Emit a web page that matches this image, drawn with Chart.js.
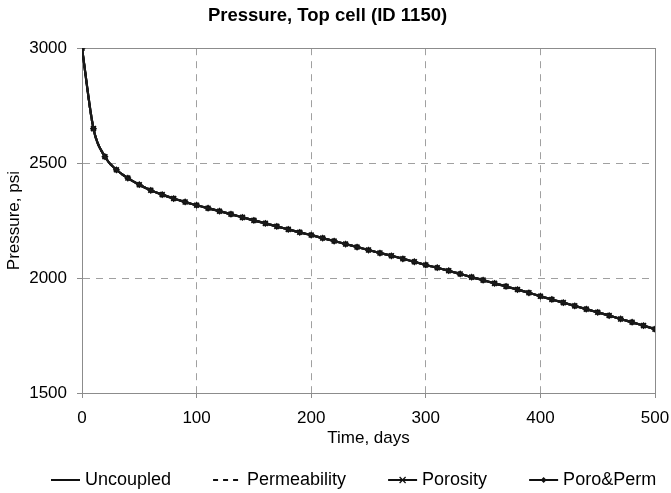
<!DOCTYPE html>
<html>
<head>
<meta charset="utf-8">
<script src="https://cdn.jsdelivr.net/npm/chart.js@4/dist/chart.umd.min.js"></script>
<style>
  html, body { margin: 0; padding: 0; background: #fff; }
  #wrap { width: 671px; height: 493px; }
</style>
</head>
<body>
<div id="wrap"><canvas id="c" width="671" height="493"></canvas></div>
<script>
// ---- data ----
const timeDays = [0,10,20,30,40,50,60,70,80,90,100,110,120,130,140,150,160,170,180,190,200,
  210,220,230,240,250,260,270,280,290,300,310,320,330,340,350,360,370,380,390,400,
  410,420,430,440,450,460,470,480,490,500];
const uncoupled = [3000,2650,2528,2471,2435,2406,2382,2363,2346,2331,2317,2304,2291,2278,2264,2251,2238,2225,2212,2199,2187,
  2174,2161,2148,2135,2122,2109,2097,2084,2071,2057,2045,2032,2018,2004,1991,1977,1964,1950,1936,1921,
  1907,1893,1879,1865,1851,1837,1822,1808,1793,1778];
const permeability = [3000,2650,2528,2471,2435,2406,2382,2363,2346,2331,2317,2304,2291,2278,2264,2251,2238,2225,2212,2199,2187,
  2174,2161,2148,2135,2122,2109,2097,2084,2071,2057,2045,2032,2018,2004,1991,1977,1964,1950,1936,1921,
  1907,1893,1879,1865,1851,1837,1822,1808,1793,1778];
const porosity = [3000,2650,2528,2471,2435,2406,2382,2363,2346,2331,2317,2304,2291,2278,2264,2251,2238,2225,2212,2199,2187,
  2174,2161,2148,2135,2122,2109,2097,2084,2071,2057,2045,2032,2018,2004,1991,1977,1964,1950,1936,1921,
  1907,1893,1879,1865,1851,1837,1822,1808,1793,1778];
const poroPerm = [3000,2650,2528,2471,2435,2406,2382,2363,2346,2331,2317,2304,2291,2278,2264,2251,2238,2225,2212,2199,2187,
  2174,2161,2148,2135,2122,2109,2097,2084,2071,2057,2045,2032,2018,2004,1991,1977,1964,1950,1936,1921,
  1907,1893,1879,1865,1851,1837,1822,1808,1793,1778];
const seriesNames = ['Uncoupled','Permeability','Porosity','Poro&Perm'];
const xTicks = [0,100,200,300,400,500];
const yTicks = [1500,2000,2500,3000];
const titleText = 'Pressure, Top cell (ID 1150)';
const xTitle = 'Time, days';
const yTitle = 'Pressure, psi';

const FONT = '"Liberation Sans", Arial, Helvetica, sans-serif';
const pts = arr => timeDays.map((t, i) => ({x: t, y: arr[i]}));

const seriesStyles = [
  {dash: [], legendDash: [], pointStyle: false, radius: 0},
  {dash: [4, 4], legendDash: [5, 5], pointStyle: false, radius: 0},
  {dash: [], legendDash: [], pointStyle: 'crossRot', radius: 3.5},
  {dash: [], legendDash: [], pointStyle: 'rectRot', radius: 2.5}
];
const seriesData = [uncoupled, permeability, porosity, poroPerm];

const datasets = seriesNames.map((name, i) => ({
  label: name,
  data: pts(seriesData[i]),
  borderColor: '#1a1a1a',
  backgroundColor: '#1a1a1a',
  borderWidth: 2.2,
  borderDash: seriesStyles[i].dash,
  pointStyle: seriesStyles[i].pointStyle || 'circle',
  pointRadius: seriesStyles[i].radius,
  pointBorderWidth: 1.6,
  pointBorderColor: '#111',
  pointBackgroundColor: '#111',
  cubicInterpolationMode: 'monotone',
  fill: false
}));

// solid frame around the plot area
const framePlugin = {
  id: 'frame',
  beforeDatasetsDraw(chart) {
    const {ctx, chartArea: a} = chart;
    ctx.save();
    ctx.strokeStyle = '#8c8c8c';
    ctx.lineWidth = 1;
    ctx.setLineDash([]);
    ctx.strokeRect(Math.round(a.left) + 0.5, Math.round(a.top) + 0.5,
      Math.round(a.right - a.left), Math.round(a.bottom - a.top));
    ctx.restore();
  }
};

// legend drawn below the axis title
const legendPlugin = {
  id: 'bottomLegend',
  afterDraw(chart) {
    const {ctx} = chart;
    ctx.save();
    ctx.font = '18px ' + FONT;
    ctx.textBaseline = 'middle';
    ctx.fillStyle = '#000';
    const y = 480;
    const lineLen = 29, gapText = 5, gapItem = 42;
    let x = 51;
    seriesNames.forEach((name, i) => {
      const st = seriesStyles[i];
      ctx.strokeStyle = '#111';
      ctx.lineWidth = 2;
      ctx.setLineDash(st.legendDash);
      ctx.beginPath();
      ctx.moveTo(x, y);
      ctx.lineTo(x + lineLen, y);
      ctx.stroke();
      ctx.setLineDash([]);
      const cx = x + lineLen / 2;
      if (st.pointStyle === 'crossRot') {
        ctx.lineWidth = 1.3;
        ctx.beginPath();
        ctx.moveTo(cx - 3, y - 3); ctx.lineTo(cx + 3, y + 3);
        ctx.moveTo(cx - 3, y + 3); ctx.lineTo(cx + 3, y - 3);
        ctx.stroke();
      } else if (st.pointStyle === 'rectRot') {
        ctx.beginPath();
        ctx.moveTo(cx, y - 3); ctx.lineTo(cx + 3, y); ctx.lineTo(cx, y + 3); ctx.lineTo(cx - 3, y);
        ctx.closePath();
        ctx.fillStyle = '#111';
        ctx.fill();
        ctx.fillStyle = '#000';
      }
      x += lineLen + gapText;
      ctx.fillText(name, x, y);
      x += ctx.measureText(name).width + gapItem;
    });
    ctx.restore();
  }
};

new Chart(document.getElementById('c'), {
  type: 'line',
  data: {datasets},
  plugins: [framePlugin, legendPlugin],
  options: {
    responsive: false,
    animation: false,
    devicePixelRatio: 1,
    layout: {padding: {left: 0, right: 16, top: 0, bottom: 40}},
    plugins: {
      legend: {display: false},
      tooltip: {enabled: false},
      title: {
        display: true,
        text: titleText,
        color: '#000',
        font: {family: FONT, size: 18.5, weight: 'bold'},
        padding: {top: 5, bottom: 21}
      }
    },
    scales: {
      x: {
        type: 'linear',
        min: 0, max: 500,
        afterBuildTicks: s => { s.ticks = xTicks.map(v => ({value: v})); },
        afterFit: s => { s.height = 60; s.paddingLeft = 0; s.paddingRight = 0; },
        ticks: {color: '#000', font: {family: FONT, size: 17}, padding: 10, maxRotation: 0,
                callback: v => String(v)},
        grid: {color: '#a0a0a0', lineWidth: 1, drawTicks: true, tickLength: 5,
               tickColor: '#8c8c8c', tickBorderDash: []},
        border: {display: true, color: '#8c8c8c', width: 1, dash: [7, 6]},
        title: {display: true, text: xTitle, color: '#000', font: {family: FONT, size: 17},
                padding: {top: 4, bottom: 4}}
      },
      y: {
        type: 'linear',
        min: 1500, max: 3000,
        afterBuildTicks: s => { s.ticks = yTicks.map(v => ({value: v})); },
        afterFit: s => { s.width = 82; },
        ticks: {color: '#000', font: {family: FONT, size: 17}, padding: 10,
                callback: v => String(v)},
        grid: {color: '#a0a0a0', lineWidth: 1, drawTicks: true, tickLength: 5,
               tickColor: '#8c8c8c', tickBorderDash: []},
        border: {display: true, color: '#8c8c8c', width: 1, dash: [7, 6]},
        title: {display: true, text: yTitle, color: '#000', font: {family: FONT, size: 17},
                padding: {top: 4, bottom: 4}}
      }
    }
  }
});
</script>
</body>
</html>
